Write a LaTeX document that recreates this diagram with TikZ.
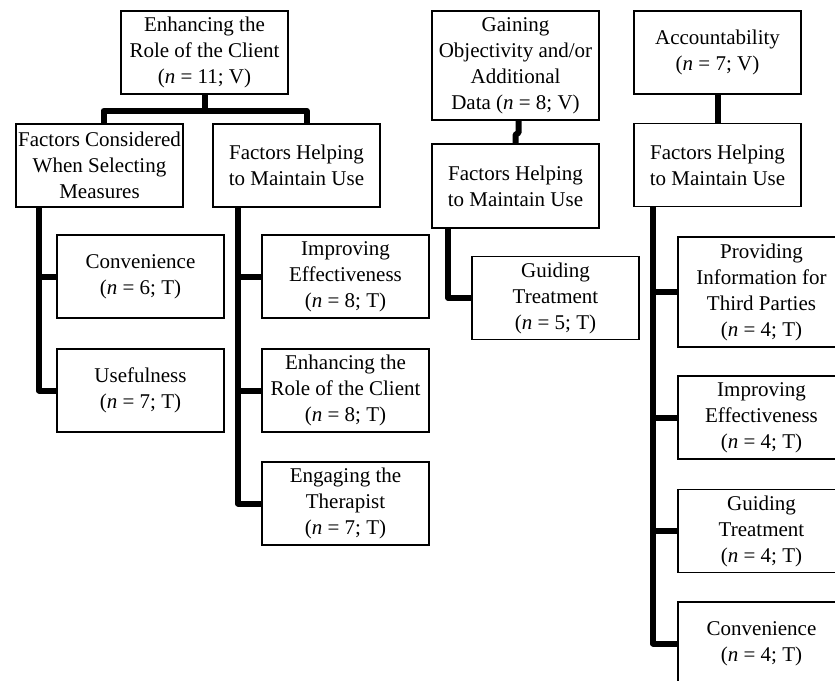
\documentclass[tikz,border=0pt]{standalone}
\usepackage{fontspec}
\setmainfont{Liberation Serif}
\usetikzlibrary{calc}

\begin{document}
\begin{tikzpicture}[x=1pt,y=-1pt,
  box/.style={draw,line width=1.6pt,minimum width=167pt,minimum height=83pt,
    align=center,inner sep=2pt,font=\fontsize{21}{26}\selectfont},
  link/.style={line width=6pt,line join=round}]
\useasboundingbox (0,0) rectangle (835,680);

\node[box] (root1) at (204.5,52.5) {Enhancing the\\Role of the Client\\(\textit{n} = 11; V)};
\node[box] (cons1) at (99.5,165.5) {Factors Considered\\When Selecting\\Measures};
\node[box] (help1) at (296.5,165.5) {Factors Helping\\to Maintain Use};
\node[box] (conv1) at (140.5,276.5) {Convenience\\(\textit{n} = 6; T)};
\node[box] (use1) at (140.5,390.5) {Usefulness\\(\textit{n} = 7; T)};
\node[box] (impr1) at (345.5,276.5) {Improving\\Effectiveness\\(\textit{n} = 8; T)};
\node[box] (enh1) at (345.5,390.5) {Enhancing the\\Role of the Client\\(\textit{n} = 8; T)};
\node[box] (eng1) at (345.5,503.5) {Engaging the\\Therapist\\(\textit{n} = 7; T)};

\node[box,minimum height=109pt] (root2) at (515.5,65.5) {Gaining\\Objectivity and/or\\Additional\\Data (\textit{n} = 8; V)};
\node[box,minimum height=84pt] (help2) at (515.5,186) {Factors Helping\\to Maintain Use};
\node[box] (guid2) at (555.5,298) {Guiding\\Treatment\\(\textit{n} = 5; T)};

\node[box] (root3) at (717.5,52.5) {Accountability\\(\textit{n} = 7; V)};
\node[box] (help3) at (717.5,165) {Factors Helping\\to Maintain Use};
\node[box,minimum height=110pt] (prov3) at (761.5,292) {Providing\\Information for\\Third Parties\\(\textit{n} = 4; T)};
\node[box] (impr3) at (761.5,417.5) {Improving\\Effectiveness\\(\textit{n} = 4; T)};
\node[box] (guid3) at (761.5,531) {Guiding\\Treatment\\(\textit{n} = 4; T)};
\node[box] (conv3) at (761.5,643.5) {Convenience\\(\textit{n} = 4; T)};

\draw[link] (root1.south) -- ++(0,16) coordinate (fork1);
\draw[link] ([xshift=4pt]cons1.north) |- (fork1) -| ([xshift=10pt]help1.north);
\draw[link] ([xshift=24pt]cons1.south west) |- (conv1.west);
\draw[link] ([xshift=24pt]cons1.south west) |- (use1.west);
\draw[link] ([xshift=26pt]help1.south west) |- (impr1.west);
\draw[link] ([xshift=26pt]help1.south west) |- (enh1.west);
\draw[link] ([xshift=26pt]help1.south west) |- (eng1.west);

\draw[link] ([xshift=3pt]root2.south) -- ++(0,12) -- ++(-3,2) -- (help2.north);
\draw[link] ([xshift=17pt]help2.south west) |- (guid2.west);

\draw[link] (root3.south) -- (help3.north);
\draw[link] ([xshift=20pt]help3.south west) |- (prov3.west);
\draw[link] ([xshift=20pt]help3.south west) |- (impr3.west);
\draw[link] ([xshift=20pt]help3.south west) |- (guid3.west);
\draw[link] ([xshift=20pt]help3.south west) |- (conv3.west);
\end{tikzpicture}
\end{document}
